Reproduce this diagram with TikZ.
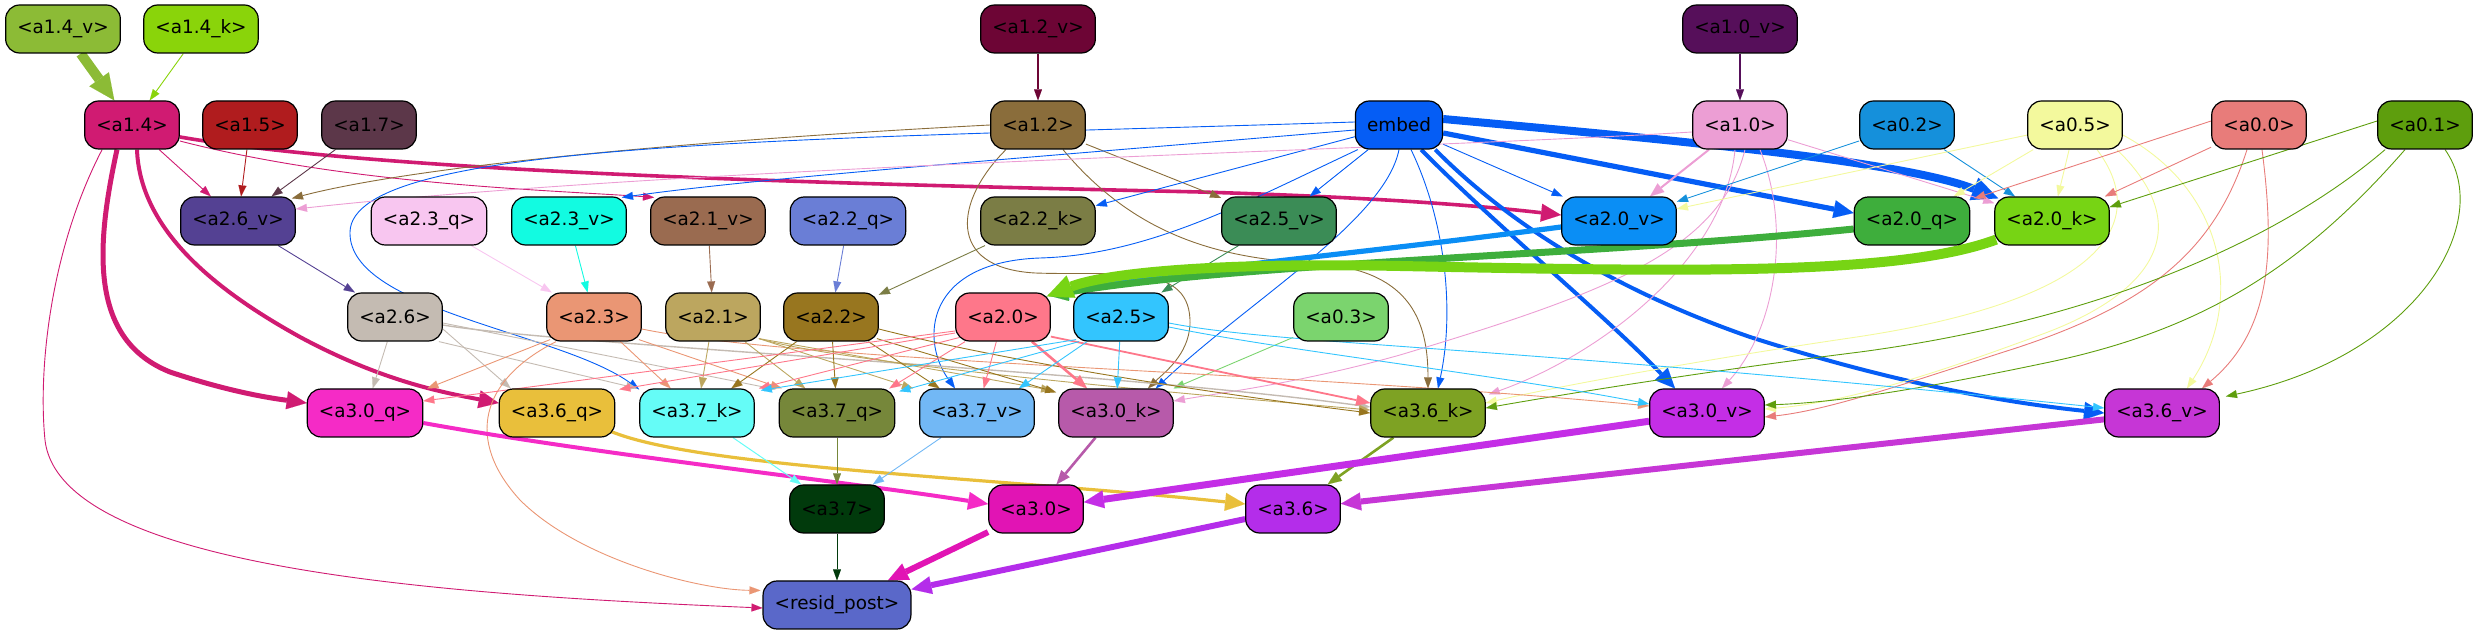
\documentclass[tikz,border=0pt]{standalone}
\usepackage{fontspec}
\setmainfont{DejaVu Sans}
\usetikzlibrary{arrows.meta,calc}
\pgfdeclarelayer{bg}
\pgfsetlayers{bg,main}
\definecolor{c14v}{HTML}{8CBB36}
\definecolor{c14k}{HTML}{8AD40A}
\definecolor{c12v}{HTML}{6D0535}
\definecolor{c10v}{HTML}{560F5A}
\definecolor{c14}{HTML}{D01B72}
\definecolor{c15}{HTML}{B01C1E}
\definecolor{c17}{HTML}{5C3749}
\definecolor{c12}{HTML}{8A6D3B}
\definecolor{cemb}{HTML}{055DF5}
\definecolor{c10}{HTML}{EC9ED4}
\definecolor{c02}{HTML}{1590DB}
\definecolor{c05}{HTML}{F3F99D}
\definecolor{c00}{HTML}{E87C7A}
\definecolor{c01}{HTML}{5E9E0D}
\definecolor{c26v}{HTML}{544193}
\definecolor{c23q}{HTML}{F8C6F0}
\definecolor{c23v}{HTML}{12FBE1}
\definecolor{c21v}{HTML}{9A6B50}
\definecolor{c22q}{HTML}{6A7ED6}
\definecolor{c22k}{HTML}{7B7D45}
\definecolor{c25v}{HTML}{3B8C56}
\definecolor{c20v}{HTML}{0A8EF5}
\definecolor{c20q}{HTML}{3EAE3C}
\definecolor{c20k}{HTML}{77D414}
\definecolor{c26}{HTML}{C4BBB2}
\definecolor{c23}{HTML}{EA9674}
\definecolor{c21}{HTML}{BCA65F}
\definecolor{c22}{HTML}{98761F}
\definecolor{c20}{HTML}{FE778A}
\definecolor{c25}{HTML}{33C5FE}
\definecolor{c03}{HTML}{7BD46E}
\definecolor{c30q}{HTML}{F52BC6}
\definecolor{c36q}{HTML}{E9BF3B}
\definecolor{c37k}{HTML}{65FCF7}
\definecolor{c37q}{HTML}{76873A}
\definecolor{c37v}{HTML}{72B8F5}
\definecolor{c30k}{HTML}{B75AAA}
\definecolor{c36k}{HTML}{7EA223}
\definecolor{c30v}{HTML}{C42EE6}
\definecolor{c36v}{HTML}{C636D6}
\definecolor{c37}{HTML}{013A0C}
\definecolor{c30}{HTML}{E114B4}
\definecolor{c36}{HTML}{B42DEA}
\definecolor{cres}{HTML}{5A68C9}
\tikzset{
  nd/.style={draw=black, line width=0.6pt, rounded corners=7pt, minimum height=24pt,
    inner xsep=5.8pt, inner ysep=0pt, font=\fontsize{9.2pt}{11pt}\selectfont, text=black},
  ed/.style={line width=0.45pt, -{Triangle[length=5.5pt,width=4pt,line width=0.01pt]}},
  edm/.style={line width=1.1pt, -{Triangle[length=7pt,width=5.5pt,line width=0.01pt]}},
  edt/.style={line width=2.5pt, -{Triangle[length=10pt,width=9pt,line width=0.01pt]}},
  edh/.style={line width=4.5pt, -{Triangle[length=13pt,width=12pt,line width=0.01pt]}},
}
\begin{document}
\begin{tikzpicture}[x=0.5pt,y=-0.5pt]
\useasboundingbox (0,0) rectangle (2481,635);
% row 1
\node[nd,fill=c14v] (a14v) at (63,29) {<a1.4\_v>};
\node[nd,fill=c14k] (a14k) at (201,29) {<a1.4\_k>};
\node[nd,fill=c12v] (a12v) at (1038,29) {<a1.2\_v>};
\node[nd,fill=c10v] (a10v) at (1740,29) {<a1.0\_v>};
% row 2
\node[nd,fill=c14] (a14) at (132,125) {<a1.4>};
\node[nd,fill=c15] (a15) at (250,125) {<a1.5>};
\node[nd,fill=c17] (a17) at (369,125) {<a1.7>};
\node[nd,fill=c12] (a12) at (1038,125) {<a1.2>};
\node[nd,fill=cemb] (embed) at (1399,125) {embed};
\node[nd,fill=c10] (a10) at (1740,125) {<a1.0>};
\node[nd,fill=c02] (a02) at (1907,125) {<a0.2>};
\node[nd,fill=c05] (a05) at (2075,125) {<a0.5>};
\node[nd,fill=c00] (a00) at (2259,125) {<a0.0>};
\node[nd,fill=c01] (a01) at (2425,125) {<a0.1>};
% row 3
\node[nd,fill=c26v] (a26v) at (238,221) {<a2.6\_v>};
\node[nd,fill=c23q] (a23q) at (429,221) {<a2.3\_q>};
\node[nd,fill=c23v] (a23v) at (569,221) {<a2.3\_v>};
\node[nd,fill=c21v] (a21v) at (708,221) {<a2.1\_v>};
\node[nd,fill=c22q] (a22q) at (848,221) {<a2.2\_q>};
\node[nd,fill=c22k] (a22k) at (1038,221) {<a2.2\_k>};
\node[nd,fill=c25v] (a25v) at (1279,221) {<a2.5\_v>};
\node[nd,fill=c20v] (a20v) at (1619,221) {<a2.0\_v>};
\node[nd,fill=c20q] (a20q) at (1912,221) {<a2.0\_q>};
\node[nd,fill=c20k] (a20k) at (2052,221) {<a2.0\_k>};
% row 4
\node[nd,fill=c26] (a26) at (395,317) {<a2.6>};
\node[nd,fill=c23] (a23) at (594,317) {<a2.3>};
\node[nd,fill=c21] (a21) at (713,317) {<a2.1>};
\node[nd,fill=c22] (a22) at (831,317) {<a2.2>};
\node[nd,fill=c20] (a20) at (1003,317) {<a2.0>};
\node[nd,fill=c25] (a25) at (1121,317) {<a2.5>};
\node[nd,fill=c03] (a03) at (1341,317) {<a0.3>};
% row 5
\node[nd,fill=c30q] (a30q) at (365,413) {<a3.0\_q>};
\node[nd,fill=c36q] (a36q) at (557,413) {<a3.6\_q>};
\node[nd,fill=c37k] (a37k) at (697,413) {<a3.7\_k>};
\node[nd,fill=c37q] (a37q) at (837,413) {<a3.7\_q>};
\node[nd,fill=c37v] (a37v) at (977,413) {<a3.7\_v>};
\node[nd,fill=c30k] (a30k) at (1116,413) {<a3.0\_k>};
\node[nd,fill=c36k] (a36k) at (1428,413) {<a3.6\_k>};
\node[nd,fill=c30v] (a30v) at (1707,413) {<a3.0\_v>};
\node[nd,fill=c36v] (a36v) at (2162,413) {<a3.6\_v>};
% row 6
\node[nd,fill=c37] (a37) at (837,509) {<a3.7>};
\node[nd,fill=c30] (a30) at (1036,509) {<a3.0>};
\node[nd,fill=c36] (a36) at (1293,509) {<a3.6>};
% row 7
\node[nd,fill=cres] (resid) at (837,605) {<resid\_post>};

\begin{pgfonlayer}{bg}
% layer 1 -> 2
\draw[edh,c14v,line width=5pt] (a14v) -- (a14);
\draw[ed,c14k] (a14k) -- (a14);
\draw[ed,c12v,line width=0.6pt] (a12v) -- (a12);
\draw[ed,c10v,line width=0.8pt] (a10v) -- (a10);
% a1.4
\draw[ed,c14] (a14) -- (a26v);
\draw[edt,c14,line width=1.8pt] ($(a14.east)+(0,12)$) .. controls (400,175) and (900,185) .. (1200,192) .. controls (1400,198) and (1500,208) .. ($(a20v.west)+(0,-6)$);
\draw[ed,c14] ($(a14.east)+(0,16)$) .. controls (350,185) and (550,190) .. ($(a21v.north west)+(4,1)$);
\draw[edt,c14,line width=2.5pt] ($(a14.south)+(-15,0)$) .. controls (95,250) and (90,340) .. (170,372) .. controls (230,392) and (270,398) .. ($(a30q.west)+(0,-10)$);
\draw[edt,c14,line width=2pt] ($(a14.south)+(5,0)$) .. controls (140,230) and (215,290) .. (300,337) .. controls (380,380) and (440,392) .. ($(a36q.west)+(0,-10)$);
\draw[ed,c14] ($(a14.south west)+(18,0)$) .. controls (50,250) and (38,370) .. (45,440) .. controls (60,570) and (450,595) .. ($(resid.west)+(0,3)$);
\draw[ed,c15] (a15) -- (a26v);
\draw[ed,c17] (a17) -- (a26v);
% a1.2
\draw[ed,c12] (a12.west) .. controls (700,140) and (420,165) .. ($(a26v.north east)+(-4,2)$);
\draw[ed,c12] (a12) -- (a25v);
\draw[ed,c12] ($(a12.south)+(-32,0)$) .. controls (955,200) and (945,268) .. (1035,273) .. controls (1120,276) and (1192,262) .. (1190,325) .. controls (1188,355) and (1165,372) .. ($(a30k.north)+(32,0)$);
\draw[ed,c12] ($(a12.south)+(25,0)$) .. controls (1130,230) and (1210,258) .. (1310,263) .. controls (1410,268) and (1428,320) .. (a36k.north);
% embed
\draw[ed,cemb] (embed) -- (a22k);
\draw[ed,cemb] (embed) -- (a25v);
\draw[ed,cemb] (embed) -- (a20v);
\draw[ed,cemb] ($(embed.west)+(0,5)$) .. controls (1000,160) and (760,178) .. ($(a23v.north east)+(-5,1)$);
\draw[ed,cemb] ($(embed.west)+(0,-3)$) .. controls (800,140) and (352,140) .. (350,232) .. controls (348,310) and (560,332) .. ($(a37k.north west)+(0,1)$);
\draw[ed,cemb] ($(embed.south west)+(3,0)$) .. controls (1250,200) and (1150,255) .. (1040,258) .. controls (925,262) and (920,340) .. ($(a37v.north)+(-22,0)$);
\draw[ed,cemb] (embed.south) .. controls (1385,220) and (1250,300) .. ($(a30k.north east)+(-18,0)$);
\draw[ed,cemb] ($(embed.south)+(12,0)$) .. controls (1445,220) and (1455,310) .. ($(a36k.north)+(10,0)$);
\draw[edt,cemb,line width=2pt] ($(embed.south east)+(-22,0)$) .. controls (1490,220) and (1610,320) .. ($(a30v.north)+(-32,0)$);
\draw[edt,cemb,line width=2pt] ($(embed.south east)+(-8,0)$) .. controls (1500,215) and (1600,285) .. (1750,337) .. controls (1900,385) and (2010,403) .. (a36v.west);
\draw[edt,cemb,line width=2.6pt] ($(embed.east)+(0,8)$) -- ($(a20q.west)+(0,-8)$);
\draw[edh,cemb,line width=4pt] ($(embed.east)+(0,-6)$) .. controls (1650,138) and (1900,160) .. ($(a20k.north west)+(4,2)$);
% a1.0
\draw[edm,c10,line width=1pt] (a10) -- (a20v);
\draw[ed,c10] (a10) -- (a20k);
\draw[ed,c10] ($(a10.west)+(0,7)$) .. controls (1400,150) and (700,165) .. ($(a26v.east)+(0,-12)$);
\draw[ed,c10] ($(a10.south)+(20,0)$) .. controls (1792,230) and (1775,330) .. ($(a30v.north)+(15,0)$);
\draw[ed,c10] ($(a10.south)+(-5,0)$) .. controls (1725,260) and (1600,355) .. ($(a36k.north east)+(3,6)$);
\draw[ed,c10] ($(a10.south)+(5,0)$) .. controls (1720,250) and (1610,292) .. (1400,355) .. controls (1300,383) and (1220,393) .. ($(a30k.east)+(0,-12)$);
% a0.2, a0.5
\draw[ed,c02] (a02) -- (a20v);
\draw[ed,c02] (a02) -- (a20k);
\draw[ed,c05] (a05) -- (a20v);
\draw[ed,c05] (a05) -- (a20q);
\draw[ed,c05] (a05) -- (a20k);
\draw[ed,c05] ($(a05.south)+(22,0)$) .. controls (2150,220) and (2110,300) .. (1850,338) .. controls (1700,360) and (1550,388) .. ($(a36k.east)+(0,-10)$);
\draw[ed,c05] ($(a05.south east)+(-6,0)$) .. controls (2200,230) and (2150,295) .. (2040,335) .. controls (1940,372) and (1850,402) .. ($(a30v.east)+(0,-4)$);
\draw[ed,c05] ($(a05.east)+(0,10)$) .. controls (2225,190) and (2245,300) .. ($(a36v.north)+(25,0)$);
% a0.0
\draw[ed,c00] ($(a00.west)+(0,-4)$) -- ($(a20q.north east)+(4,2)$);
\draw[ed,c00] (a00) -- (a20k);
\draw[ed,c00] ($(a00.south)+(-12,0)$) .. controls (2215,250) and (2150,305) .. (2010,350) .. controls (1910,382) and (1830,410) .. ($(a30v.east)+(0,4)$);
\draw[ed,c00] ($(a00.south)+(3,0)$) .. controls (2275,250) and (2272,330) .. ($(a36v.north)+(40,0)$);
% a0.1
\draw[ed,c01] ($(a01.west)+(0,-4)$) -- ($(a20k.east)+(0,-14)$);
\draw[ed,c01] ($(a01.south west)+(8,0)$) .. controls (2280,240) and (2100,320) .. (1860,352) .. controls (1700,372) and (1560,395) .. ($(a36k.east)+(0,-5)$);
\draw[ed,c01] ($(a01.south)+(-20,0)$) .. controls (2300,270) and (2200,330) .. (2050,362) .. controls (1950,383) and (1850,402) .. ($(a30v.east)+(0,-8)$);
\draw[ed,c01] ($(a01.south)+(20,0)$) .. controls (2495,220) and (2420,355) .. ($(a36v.north east)+(6,8)$);
\draw[ed,c03] (a03) -- (a30k);
% layer 3 -> 4
\draw[ed,c26v] (a26v) -- (a26);
\draw[ed,c23q] (a23q) -- (a23);
\draw[ed,c23v] (a23v) -- (a23);
\draw[ed,c21v] (a21v) -- (a21);
\draw[ed,c22q] (a22q) -- (a22);
\draw[ed,c22k] (a22k) -- (a22);
\draw[ed,c25v] (a25v) -- (a25);
\draw[edt,c20v,line width=2.6pt] ($(a20v.west)+(0,6)$) .. controls (1350,255) and (1150,272) .. ($(a20.north east)+(-3,3)$);
\draw[edt,c20q,line width=3.5pt] ($(a20q.west)+(0,8)$) .. controls (1600,255) and (1250,262) .. ($(a20.north east)+(-3,3)$);
\draw[edh,c20k,line width=5pt] ($(a20k.south west)+(2,-6)$) .. controls (1900,275) and (1700,272) .. (1400,266) .. controls (1200,262) and (1100,275) .. ($(a20.north east)+(-4,4)$);
% a2.6
\draw[ed,c26] (a26) -- (a30q);
\draw[ed,c26] ($(a26.east)+(0,12)$) -- ($(a36q.north west)+(12,0)$);
\draw[ed,c26] ($(a26.south east)+(-4,0)$) -- ($(a37k.north west)+(-2,0)$);
\draw[ed,c26] ($(a26.east)+(0,6)$) -- ($(a37q.north west)+(-3,1)$);
\draw[ed,c26,line width=0.7pt] ($(a26.east)+(0,8)$) .. controls (560,345) and (1100,370) .. ($(a36k.west)+(0,-6)$);
% a2.3
\draw[ed,c23] ($(a23.south west)+(4,-2)$) -- ($(a30q.north east)+(4,0)$);
\draw[ed,c23] (a23) -- (a37k);
\draw[ed,c23] ($(a23.south east)+(-3,-2)$) -- ($(a37q.north west)+(3,0)$);
\draw[ed,c23] ($(a23.east)+(0,12)$) .. controls (800,362) and (1300,372) .. ($(a30v.west)+(0,-7)$);
\draw[ed,c23] ($(a23.south west)+(10,0)$) .. controls (480,380) and (465,440) .. (520,500) .. controls (580,560) and (700,590) .. ($(resid.north west)+(-2,10)$);
% a2.1
\draw[ed,c21] (a21) -- (a37k);
\draw[ed,c21] (a21) -- (a37q);
\draw[ed,c21] ($(a21.south east)+(-2,-3)$) -- ($(a37v.north west)+(-6,0)$);
\draw[ed,c21] ($(a21.south east)+(-2,-3)$) -- ($(a30k.north west)+(-6,2)$);
\draw[ed,c21] ($(a21.south east)+(-2,-3)$) .. controls (850,365) and (1200,395) .. ($(a36k.west)+(0,-3)$);
% a2.2
\draw[ed,c22] (a22) -- (a37k);
\draw[ed,c22] (a22) -- (a37q);
\draw[ed,c22] (a22) -- (a37v);
\draw[ed,c22] ($(a22.south east)+(-2,-3)$) -- ($(a30k.north west)+(-2,4)$);
\draw[ed,c22] ($(a22.east)+(0,12)$) .. controls (1000,360) and (1200,392) .. (a36k.west);
% a2.0
\draw[ed,c20] ($(a20.west)+(0,14)$) -- ($(a30q.east)+(0,-12)$);
\draw[ed,c20] ($(a20.west)+(0,16)$) -- ($(a36q.north east)+(4,1)$);
\draw[ed,c20] ($(a20.south west)+(4,-4)$) -- ($(a37k.north east)+(4,0)$);
\draw[ed,c20] ($(a20.south west)+(10,0)$) -- ($(a37q.north east)+(-6,0)$);
\draw[ed,c20] (a20) -- (a37v);
\draw[edm,c20,line width=1.3pt] (a20) -- (a30k);
\draw[edm,c20,line width=0.9pt] ($(a20.south east)+(0,-5)$) -- ($(a36k.west)+(0,-10)$);
% a2.5
\draw[ed,c25] ($(a25.south west)+(3,-2)$) -- ($(a37k.north east)+(6,2)$);
\draw[ed,c25] ($(a25.south west)+(6,0)$) -- ($(a37q.north east)+(4,3)$);
\draw[ed,c25] ($(a25.south west)+(14,0)$) -- ($(a37v.north east)+(-16,0)$);
\draw[ed,c25] (a25) -- (a30k);
\draw[ed,c25] ($(a25.east)+(0,10)$) .. controls (1280,350) and (1500,375) .. ($(a30v.west)+(0,-9)$);
\draw[ed,c25] ($(a25.east)+(0,6)$) .. controls (1280,345) and (1500,345) .. ($(a36v.west)+(0,-5)$);
% layer 5 -> 6 -> 7
\draw[edt,c30q,line width=2pt] ($(a30q.east)+(0,10)$) .. controls (600,455) and (850,482) .. ($(a30.west)+(0,-5)$);
\draw[edt,c36q,line width=1.6pt] ($(a36q.south east)+(-4,-6)$) .. controls (700,468) and (1000,478) .. ($(a36.west)+(0,-5)$);
\draw[ed,c37k,line width=0.5pt] (a37k) -- (a37);
\draw[ed,c37q] (a37q) -- (a37);
\draw[ed,c37v] (a37v) -- (a37);
\draw[edm,c30k,line width=1.3pt] (a30k) -- (a30);
\draw[edm,c36k,line width=1.3pt] (a36k) -- (a36);
\draw[edt,c30v,line width=3.5pt] (a30v) -- (a30);
\draw[edt,c36v,line width=3pt] (a36v) -- (a36);
\draw[ed,c37] (a37) -- (resid);
\draw[edt,c30,line width=3pt] (a30) -- (resid);
\draw[edt,c36,line width=3pt] (a36) -- (resid);
\end{pgfonlayer}
\end{tikzpicture}
\end{document}
